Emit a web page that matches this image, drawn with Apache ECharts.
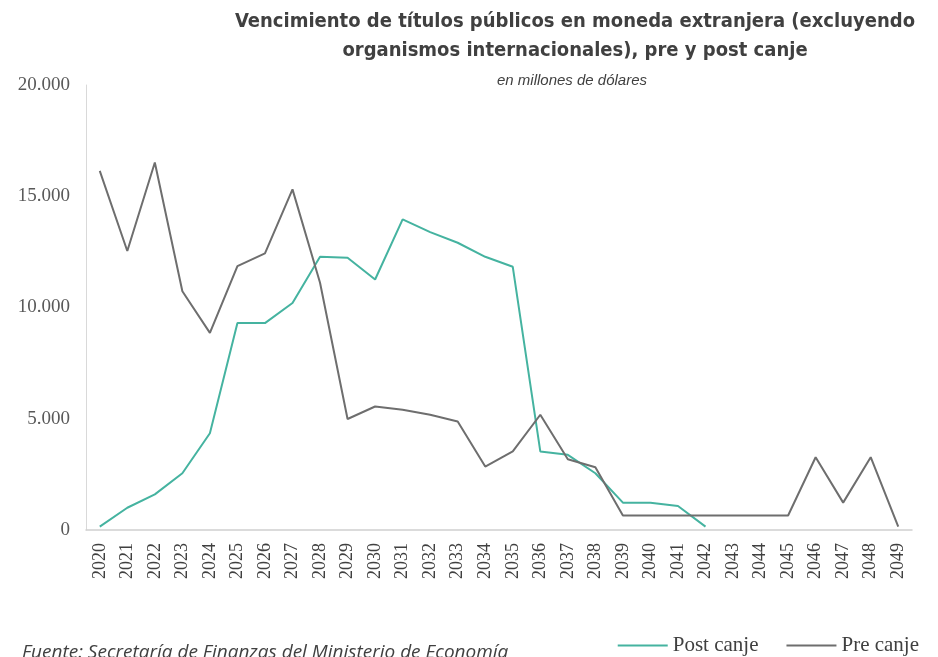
<!DOCTYPE html>
<html>
<head>
<meta charset="utf-8">
<script src="https://cdn.jsdelivr.net/npm/echarts@6/dist/echarts.min.js"></script>
<style>
  html, body { margin: 0; padding: 0; background: #fff; }
  #chart { width: 938px; height: 657px; }
</style>
</head>
<body>
<div id="chart"></div>
<script>
// años de vencimiento
let years = ['2020', '2021', '2022', '2023', '2024', '2025', '2026', '2027', '2028', '2029',
  '2030', '2031', '2032', '2033', '2034', '2035', '2036', '2037', '2038', '2039',
  '2040', '2041', '2042', '2043', '2044', '2045', '2046', '2047', '2048', '2049']

// millones de dólares
let postCanje = [150, 1000, 1600, 2550, 4350, 9300, 9300, 10200, 12280, 12240,
  11260, 13960, 13390, 12910, 12280, 11830, 3530, 3380, 2550, 1230,
  1230, 1080, 150, null, null, null, null, null, null, null]

let preCanje = [16140, 12540, 16520, 10730, 8860, 11860, 12430, 15310, 11110, 4990,
  5550, 5400, 5180, 4880, 2850, 3530, 5180, 3180, 2820, 650,
  650, 650, 650, 650, 650, 650, 3270, 1230, 3270, 150]

let yTicks = [0, 5000, 10000, 15000, 20000]

const fmtMiles = v => String(v).replace(/\B(?=(\d{3})+(?!\d))/g, '.')

let myChart = echarts.init(document.getElementById('chart'))
let option = {
  animation: false,
  title: [
    {
      text: 'Vencimiento de títulos públicos en moneda extranjera (excluyendo\norganismos internacionales), pre y post canje',
      left: 570,
      top: 2,
      textAlign: 'center',
      textStyle: {
        fontFamily: "'Liberation Sans Narrow', 'DejaVu Sans Condensed', sans-serif",
        fontSize: 20,
        fontWeight: 'bold',
        color: '#404040',
        lineHeight: 29
      }
    },
    {
      text: 'en millones de dólares',
      left: 567,
      top: 68,
      textAlign: 'center',
      textStyle: {
        fontFamily: "'Liberation Sans', sans-serif",
        fontSize: 15,
        fontStyle: 'italic',
        fontWeight: 'normal',
        color: '#404040'
      }
    },
    {
      text: 'Fuente: Secretaría de Finanzas del Ministerio de Economía',
      left: 17,
      top: 638,
      textStyle: {
        fontFamily: "'Open Sans', sans-serif",
        fontSize: 19,
        fontStyle: 'italic',
        fontWeight: 'normal',
        color: '#404040'
      }
    }
  ],
  legend: {
    right: 14,
    top: 630,
    icon: 'rect',
    itemWidth: 50,
    itemHeight: 2,
    itemGap: 28,
    textStyle: {
      fontFamily: "'Liberation Serif', serif",
      fontSize: 21,
      color: '#404040'
    },
    data: ['Post canje', 'Pre canje']
  },
  grid: {
    left: 86,
    right: 26,
    top: 85,
    bottom: 127,
    containLabel: false
  },
  xAxis: {
    type: 'category',
    data: years,
    boundaryGap: true,
    axisLine: {lineStyle: {color: '#d0d0d0', width: 1.5}},
    axisTick: {show: false},
    axisLabel: {
      rotate: 90,
      interval: 0,
      margin: 13,
      fontFamily: "'Liberation Serif', serif",
      fontSize: 18,
      color: '#404040'
    }
  },
  yAxis: {
    type: 'value',
    min: yTicks[0],
    max: yTicks[yTicks.length - 1],
    interval: 5000,
    axisLine: {show: true, lineStyle: {color: '#d9d9d9'}},
    axisTick: {show: false},
    splitLine: {show: false},
    axisLabel: {
      margin: 16,
      fontFamily: "'Liberation Serif', serif",
      fontSize: 19,
      color: '#595959',
      formatter: v => fmtMiles(v)
    }
  },
  series: [
    {
      name: 'Post canje',
      type: 'line',
      data: postCanje,
      showSymbol: false,
      symbol: 'none',
      color: '#45b3a0',
      lineStyle: {width: 2, color: '#45b3a0'}
    },
    {
      name: 'Pre canje',
      type: 'line',
      data: preCanje,
      showSymbol: false,
      symbol: 'none',
      color: '#6e6e6e',
      lineStyle: {width: 2, color: '#6e6e6e'}
    }
  ]
}
myChart.setOption(option)
</script>
</body>
</html>
